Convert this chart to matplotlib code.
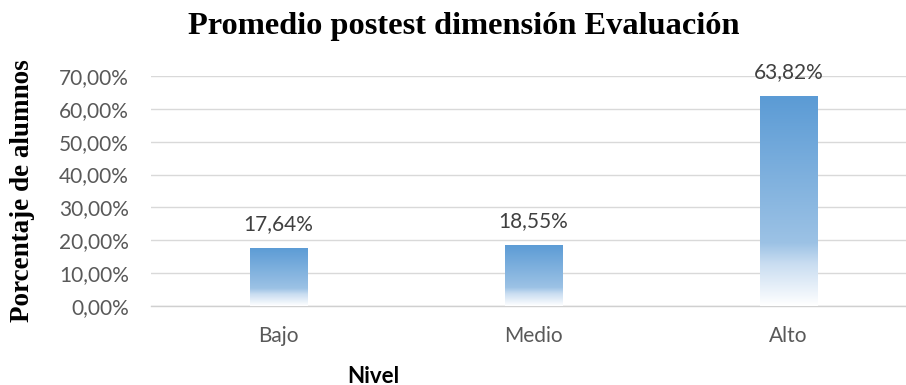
import numpy as np
import matplotlib
matplotlib.use('Agg')
import matplotlib.pyplot as plt
from matplotlib.colors import LinearSegmentedColormap
from matplotlib.ticker import FuncFormatter

# datos
niveles = ['Bajo', 'Medio', 'Alto']
porcentajes = [0.1764, 0.1855, 0.6382]
etiquetas = ['17,64%', '18,55%', '63,82%']
ticks_y = [0.0, 0.1, 0.2, 0.3, 0.4, 0.5, 0.6, 0.7]

sans = ['Lato', 'DejaVu Sans']
serif = ['Liberation Serif', 'DejaVu Serif']

fig = plt.figure(figsize=(9.06, 3.85), dpi=100)
ax = fig.add_axes([0.1667, 0.205, 0.8444, 0.598])

# degradado de azul (arriba) a blanco (abajo)
cmap = LinearSegmentedColormap.from_list(
    'azul', [(0.0, '#FFFFFF'), (0.20, '#C9DDF1'), (0.30, '#9CC2E5'), (1.0, '#5B9BD5')])
grad = np.linspace(0, 1, 256).reshape(-1, 1)

ancho = 0.224
x = np.arange(len(niveles))
barras = ax.bar(x, porcentajes, width=ancho, color='none', edgecolor='none', zorder=3)
for b in barras:
    x0, y0 = b.get_x(), b.get_y()
    w, h = b.get_width(), b.get_height()
    im = ax.imshow(grad, cmap=cmap, aspect='auto', origin='lower',
                   extent=[x0, x0 + w, y0, y0 + h], zorder=3)
    im.set_clip_path(b)

for xi, v, t in zip(x, porcentajes, etiquetas):
    ax.annotate(t, (xi, v), xytext=(0, 10), textcoords='offset points',
                ha='center', va='bottom', fontsize=15, color='#404040', family=sans)

ax.set_xlim(-0.5, len(niveles) - 0.5)
ax.set_ylim(0, 0.7)
ax.set_yticks(ticks_y)
ax.yaxis.set_major_formatter(FuncFormatter(lambda v, p: f'{v*100:.2f}%'.replace('.', ',')))
ax.set_xticks(x)
ax.set_xticklabels(niveles)

ax.grid(axis='y', color='#D9D9D9', linewidth=1.0, zorder=0)
ax.set_axisbelow(True)
for s in ['top', 'right', 'left']:
    ax.spines[s].set_visible(False)
ax.spines['bottom'].set_color('#D0D0D0')
ax.spines['bottom'].set_linewidth(1.0)
ax.tick_params(axis='both', length=0, labelsize=15, labelcolor='#595959')
ax.tick_params(axis='x', pad=14)
ax.tick_params(axis='y', pad=16)
for lab in ax.get_xticklabels() + ax.get_yticklabels():
    lab.set_family(sans)

fig.text(0.5116, 0.93, 'Promedio postest dimensión Evaluación', ha='center', va='center',
         fontsize=23.3, fontweight='bold', family=serif)
fig.text(0.025, 0.505, 'Porcentaje de alumnos', rotation=90, ha='center', va='center',
         fontsize=19.5, fontweight='bold', family=serif)
fig.text(0.412, 0.023, 'Nivel', ha='center', va='center',
         fontsize=16, fontweight='bold', family=sans)

fig.savefig('out.png', dpi=100, facecolor='white')
